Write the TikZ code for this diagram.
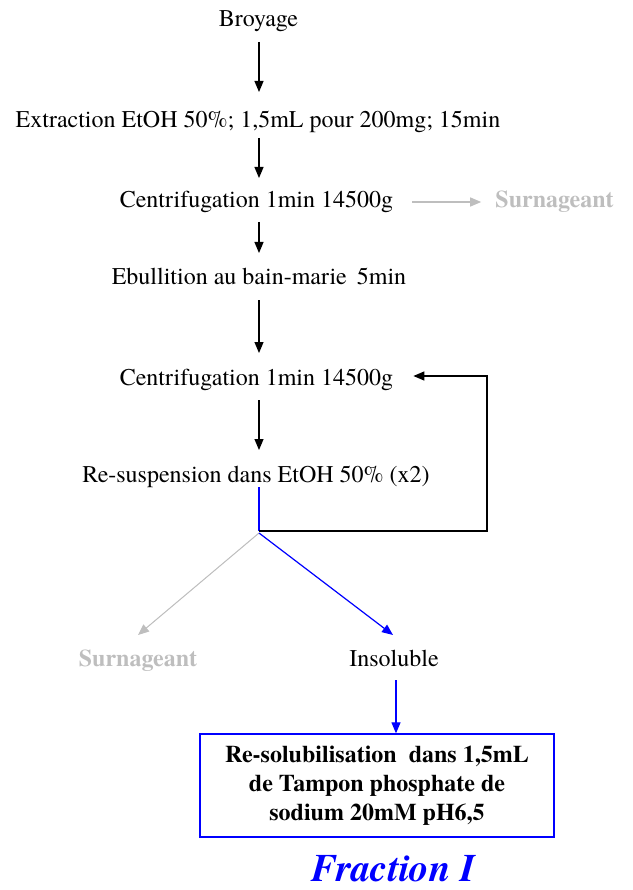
\documentclass[tikz,border=0pt]{standalone}
\usepackage{fontspec}
\setmainfont{TeX Gyre Termes}
\usetikzlibrary{arrows.meta,calc}
\definecolor{lgray}{RGB}{190,190,190}
\definecolor{pblue}{RGB}{0,0,255}
\tikzset{
  txt/.style={anchor=base,inner sep=0pt,font=\fontsize{24}{29}\selectfont},
  gtxt/.style={txt,font=\bfseries\fontsize{24}{29}\selectfont,text=lgray},
  arr/.style={line width=1.2pt,-{Triangle[length=11pt,width=9pt]}},
  blk/.style={arr,draw=black},
  gry/.style={arr,draw=lgray,fill=lgray},
  blu/.style={arr,draw=pblue,fill=pblue},
  finalbox/.style={draw=pblue,line width=1.3pt,minimum width=354pt,minimum height=103pt,inner sep=0pt,align=center,font=\bfseries\fontsize{24}{29}\selectfont}
}
\begin{document}
\begin{tikzpicture}[x=1pt,y=-1pt]
\useasboundingbox (0,0) rectangle (632,890);
\coordinate (spine) at (259,0);
\coordinate (insolx) at (396,0);
\node[txt] (broyage) at (258.5,27) {Broyage};
\node[txt] (extraction) at (258,128) {Extraction EtOH 50\%; 1,5mL pour 200mg; 15min};
\node[txt] (centri1) at (256.5,208) {Centrifugation 1min 14500g};
\node[gtxt] (surn1) at (554.5,208) {Surnageant};
\node[txt] (ebul) at (259,284) {Ebullition au bain-marie\, 5min};
\node[txt] (centri2) at (256.5,385) {Centrifugation 1min 14500g};
\node[txt] (resusp) at (256,482) {Re-suspension dans EtOH 50\% (x2)};
\coordinate (junction) at (259,531);
\coordinate (loopcorner1) at (487,531);
\coordinate (loopcorner2) at (487,376);
\node[gtxt] (surn2) at (138,666) {Surnageant};
\node[txt] (insol) at (394,666) {Insoluble};
\node[finalbox] (box) at (377,785.5) {Re-solubilisation\ \ dans 1,5mL\\de Tampon phosphate de\\sodium 20mM pH6,5};
\node[anchor=base,inner sep=0pt,text=pblue,font=\bfseries\itshape\fontsize{39}{44}\selectfont] (frac) at (394,881) {Fraction I};

\draw[blk] ([yshift=-15pt]broyage.base -| spine) -- ([yshift=36pt]extraction.base -| spine);
\draw[blk] ([yshift=-10pt]extraction.base -| spine) -- ([yshift=30pt]centri1.base -| spine);
\draw[gry] ([xshift=19pt,yshift=6pt]centri1.base east) -- ([xshift=-14pt,yshift=6pt]surn1.base west);
\draw[blk] ([yshift=-14pt]centri1.base -| spine) -- ([yshift=31pt]ebul.base -| spine);
\draw[blk] ([yshift=-16pt]ebul.base -| spine) -- ([yshift=32pt]centri2.base -| spine);
\draw[blk] ([yshift=-15pt]centri2.base -| spine) -- ([yshift=32pt]resusp.base -| spine);
\draw[line width=1.2pt,pblue] ([yshift=-5pt]resusp.base -| spine) -- (junction);
\draw[blk] (junction) -- (loopcorner1) -- (loopcorner2) -- ([xshift=20pt,yshift=9pt]centri2.base east);
\draw[gry,line width=1pt] ([yshift=-2pt]junction) -- ([yshift=31pt]surn2.base);
\draw[blu] ([yshift=-2pt]junction) -- ([yshift=31pt,xshift=-1pt]insol.base);
\draw[blu] ([yshift=-14pt]insol.base -| insolx) -- (box.north -| insolx);
\end{tikzpicture}
\end{document}
